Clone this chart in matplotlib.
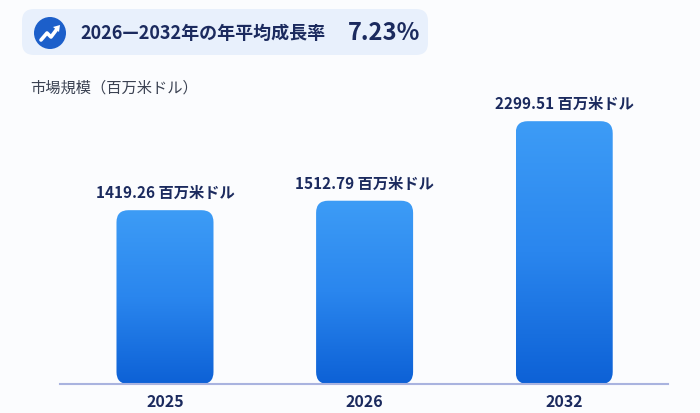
import numpy as np
import matplotlib
matplotlib.use("Agg")
import matplotlib.pyplot as plt
from matplotlib.patches import FancyBboxPatch, Circle, Polygon
from matplotlib.colors import LinearSegmentedColormap

plt.rcParams['font.family'] = ['Noto Sans CJK JP', 'DejaVu Sans']

years = ["2025", "2026", "2032"]
values = [1419.26, 1512.79, 2299.51]
unit = "百万米ドル"
cagr_label = "2026—2032年の年平均成長率"
cagr_value = "7.23%"
ylabel = "市場規模（百万米ドル）"

NAVY = "#1b2a5e"
BAR_TOP, BAR_BOTTOM = "#3d9cf6", "#0d61d6"

W, H = 700, 413
fig = plt.figure(figsize=(7, 4.13), dpi=100)
fig.patch.set_facecolor("#fbfcfe")

# main chart axes, placed in pixel terms
ax_left, ax_right, ax_bottom, ax_top = 60, 668, 384, 90
ax = fig.add_axes([ax_left / W, 1 - ax_bottom / H, (ax_right - ax_left) / W, (ax_bottom - ax_top) / H])
ax.set_facecolor("none")
base, ymax = -300, 2608
xmin, xmax = -0.526, 2.52
for s in ["top", "right", "left"]:
    ax.spines[s].set_visible(False)
ax.spines["bottom"].set_color("#a9b3df")
ax.spines["bottom"].set_linewidth(1.5)
ax.spines["bottom"].set_zorder(5)
ax.set_yticks([])
x = np.arange(len(years))
ax.set_xticks(x)
ax.set_xticklabels(years, fontsize=11.5, fontweight="bold", color=NAVY)
ax.tick_params(axis="x", length=0, pad=7)

px_x = (ax_right - ax_left) / (xmax - xmin)
px_y = (ax_bottom - ax_top) / (ymax - base)
radius_px = 12
r_x = radius_px / px_x
aspect = (radius_px / px_y) / r_x
width = 0.486

cmap = LinearSegmentedColormap.from_list("bar", [BAR_BOTTOM, "#2a86ee", BAR_TOP])
grad = np.linspace(0, 1, 256).reshape(-1, 1)

for xi, v in zip(x, values):
    patch = FancyBboxPatch((xi - width / 2, base), width, v - base,
                           boxstyle=f"round,pad=0,rounding_size={r_x}",
                           mutation_aspect=aspect, facecolor="none", edgecolor="none")
    ax.add_patch(patch)
    im = ax.imshow(grad, extent=[xi - width / 2, xi + width / 2, base, v], origin="lower",
                   cmap=cmap, aspect="auto", zorder=2)
    im.set_clip_path(patch)
    ax.text(xi, v + 90, f"{v:.2f} {unit}", ha="center", va="bottom",
            fontsize=11, fontweight="bold", color=NAVY)

ax.set_xlim(xmin, xmax)
ax.set_ylim(base, ymax)

# overlay in pixel coordinates for the header
ov = fig.add_axes([0, 0, 1, 1])
ov.set_xlim(0, W)
ov.set_ylim(H, 0)
ov.axis("off")
ov.set_facecolor("none")

box = FancyBboxPatch((22, 9), 406, 46, boxstyle="round,pad=0,rounding_size=12",
                     facecolor="#e8f0fc", edgecolor="none")
ov.add_patch(box)
ov.add_patch(Circle((50, 33), 16, facecolor="#1c5fca", edgecolor="none"))
ov.plot([41, 47, 51, 57], [40, 33, 37, 29], color="white", lw=2.6,
        solid_capstyle="round", solid_joinstyle="round")
ov.add_patch(Polygon([[60, 25], [53, 27], [59, 32]], closed=True, facecolor="white", edgecolor="none"))

ov.text(80, 33, cagr_label, ha="left", va="center", fontsize=13, fontweight="bold", color=NAVY)
ov.text(348, 33, cagr_value, ha="left", va="center", fontsize=17, fontweight="semibold", color=NAVY)
ov.text(30, 88, ylabel, ha="left", va="center", fontsize=11, color="#3b4252")

fig.savefig("out.png", dpi=100, facecolor=fig.get_facecolor())
